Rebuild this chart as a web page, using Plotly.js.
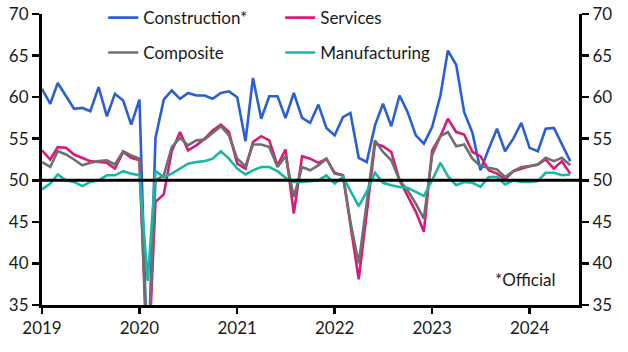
<!DOCTYPE html>
<html>
<head>
<meta charset="utf-8">
<script src="https://cdn.plot.ly/plotly-3.0.1.min.js"></script>
<style>html,body{margin:0;padding:0;background:#fff;}#chart{width:628px;height:352px;}</style>
</head>
<body>
<div id="chart"></div>
<script>
// Monthly, Jan 2019 - Jun 2024
const startYear = 2019, startMonth = 1, nMonths = 66;
const years = ['2019','2020','2021','2022','2023','2024'];

const construction = [61.0,59.2,61.7,60.1,58.6,58.7,58.3,61.2,57.7,60.4,59.6,56.7,
  59.7,26.6,55.1,59.7,60.8,59.8,60.5,60.2,60.2,59.8,60.5,60.7,
  60.0,54.7,62.3,57.4,60.1,60.1,57.5,60.5,57.5,56.9,59.1,56.3,
  55.4,57.6,58.1,52.7,52.2,56.6,59.2,56.5,60.2,58.2,55.4,54.4,
  56.4,60.2,65.6,63.9,58.2,55.7,51.2,53.8,56.2,53.5,55.0,56.9,
  53.9,53.5,56.2,56.3,54.4,52.3];
const services = [53.6,52.5,54.0,53.9,53.1,52.7,52.3,52.2,52.1,51.4,53.4,52.7,
  52.4,26.5,47.4,48.3,53.5,55.8,53.6,54.2,55.0,56.0,56.7,55.8,
  52.0,51.4,54.6,55.3,54.8,51.8,53.7,46.0,52.9,52.6,52.1,52.6,
  50.9,50.6,44.5,38.1,46.0,54.4,54.1,53.4,50.0,48.2,46.2,43.8,
  53.6,55.3,57.4,55.8,55.5,53.4,52.9,51.2,50.8,50.1,51.1,51.4,
  51.7,51.9,52.5,51.4,52.3,50.8];
const composite = [52.2,51.6,53.5,53.1,52.5,51.8,52.1,52.3,52.4,51.9,53.5,53.0,
  52.6,27.5,50.0,50.6,54.0,55.1,54.2,54.8,54.9,55.7,56.5,55.4,
  52.6,51.7,54.3,54.3,54.0,51.6,52.9,48.0,51.6,51.2,51.8,52.6,
  50.8,50.6,45.0,40.0,47.0,54.8,53.4,52.4,50.0,48.8,47.2,45.4,
  53.0,55.3,55.8,54.1,54.3,52.6,51.7,51.5,51.3,50.4,51.1,51.6,
  51.7,51.9,52.7,52.3,52.7,51.8];
const manufacturing = [48.9,49.6,50.7,50.0,49.8,49.3,49.8,50.0,50.6,50.6,51.1,50.8,
  50.6,37.9,51.1,50.4,50.8,51.4,52.0,52.2,52.3,52.6,53.5,52.6,
  51.4,50.7,51.2,51.6,51.6,51.1,50.3,49.8,49.8,49.9,50.0,50.6,
  49.6,50.4,48.7,46.9,48.6,50.9,49.7,49.4,49.2,49.1,48.6,48.1,
  50.0,52.1,50.5,49.4,49.8,49.7,49.2,50.4,50.4,49.5,50.0,49.8,
  49.8,49.9,50.9,50.9,50.6,50.7];

const dates = [];
for (let i = 0; i < nMonths; i++) {
  const y = startYear + Math.floor((startMonth - 1 + i) / 12);
  const m = ((startMonth - 1 + i) % 12) + 1;
  dates.push(y + '-' + String(m).padStart(2, '0') + '-01');
}

const FONT = 'Lato, "Open Sans", sans-serif';
const colors = {c: '#2a5fd6', s: '#d81b78', p: '#6f6f6f', m: '#17b8a6'};
const lw = 2.6;

const traces = [
  {x: dates, y: construction, name: 'Construction*', mode: 'lines', line: {color: colors.c, width: lw}, legend: 'legend'},
  {x: dates, y: services, name: 'Services', mode: 'lines', line: {color: colors.s, width: lw}, legend: 'legend'},
  {x: dates, y: composite, name: 'Composite', mode: 'lines', line: {color: colors.p, width: lw}, legend: 'legend2'},
  {x: dates, y: manufacturing, name: 'Manufacturing', mode: 'lines', line: {color: colors.m, width: lw}, legend: 'legend2'},
  // invisible copy on the right-hand axis so that it is drawn
  {x: dates, y: construction, yaxis: 'y2', mode: 'lines', line: {color: 'rgba(0,0,0,0)', width: 0},
   showlegend: false, hoverinfo: 'skip'}
];

const yAxisCommon = {
  range: [35, 70], dtick: 5, tick0: 35,
  showline: true, linecolor: '#000', linewidth: 3,
  ticks: 'outside', ticklen: 7, tickwidth: 2.5, tickcolor: '#000',
  showgrid: false, zeroline: false, automargin: false,
  tickfont: {family: FONT, size: 17, color: '#1a1a1a'}
};

const legendCommon = {
  orientation: 'h', xanchor: 'left', yanchor: 'middle',
  x: 0.114, entrywidth: 132, entrywidthmode: 'pixels',
  bgcolor: 'rgba(0,0,0,0)', borderwidth: 0,
  font: {family: FONT, size: 17, color: '#1a1a1a'}
};

const layout = {
  width: 628, height: 352,
  margin: {l: 42, r: 49, t: 14, b: 47, autoexpand: false},
  paper_bgcolor: '#fff', plot_bgcolor: '#fff',
  font: {family: FONT, size: 17, color: '#1a1a1a'},
  xaxis: {
    type: 'date', range: ['2019-01-01', '2024-07-04'],
    tickvals: years.map(y => y + '-01-01'), ticktext: years,
    showline: true, linecolor: '#000', linewidth: 3,
    ticks: 'outside', ticklen: 6, tickwidth: 2.5, tickcolor: '#000',
    showgrid: false, zeroline: false, automargin: false,
    tickfont: {family: FONT, size: 17, color: '#1a1a1a'}
  },
  yaxis: Object.assign({side: 'left'}, yAxisCommon),
  yaxis2: Object.assign({side: 'right', overlaying: 'y'}, yAxisCommon),
  showlegend: true,
  legend: Object.assign({y: 0.986}, legendCommon),
  legend2: Object.assign({y: 0.866}, legendCommon),
  shapes: [{type: 'line', xref: 'paper', x0: 0, x1: 1, yref: 'y', y0: 50, y1: 50,
            line: {color: '#000', width: 3}, layer: 'above'}],
  annotations: [{text: '*Official', xref: 'paper', yref: 'paper', x: 0.961, y: 0.089,
                 xanchor: 'right', yanchor: 'middle', showarrow: false,
                 font: {family: FONT, size: 17, color: '#1a1a1a'}}]
};

Plotly.newPlot('chart', traces, layout, {displayModeBar: false, staticPlot: true});
</script>
</body>
</html>
